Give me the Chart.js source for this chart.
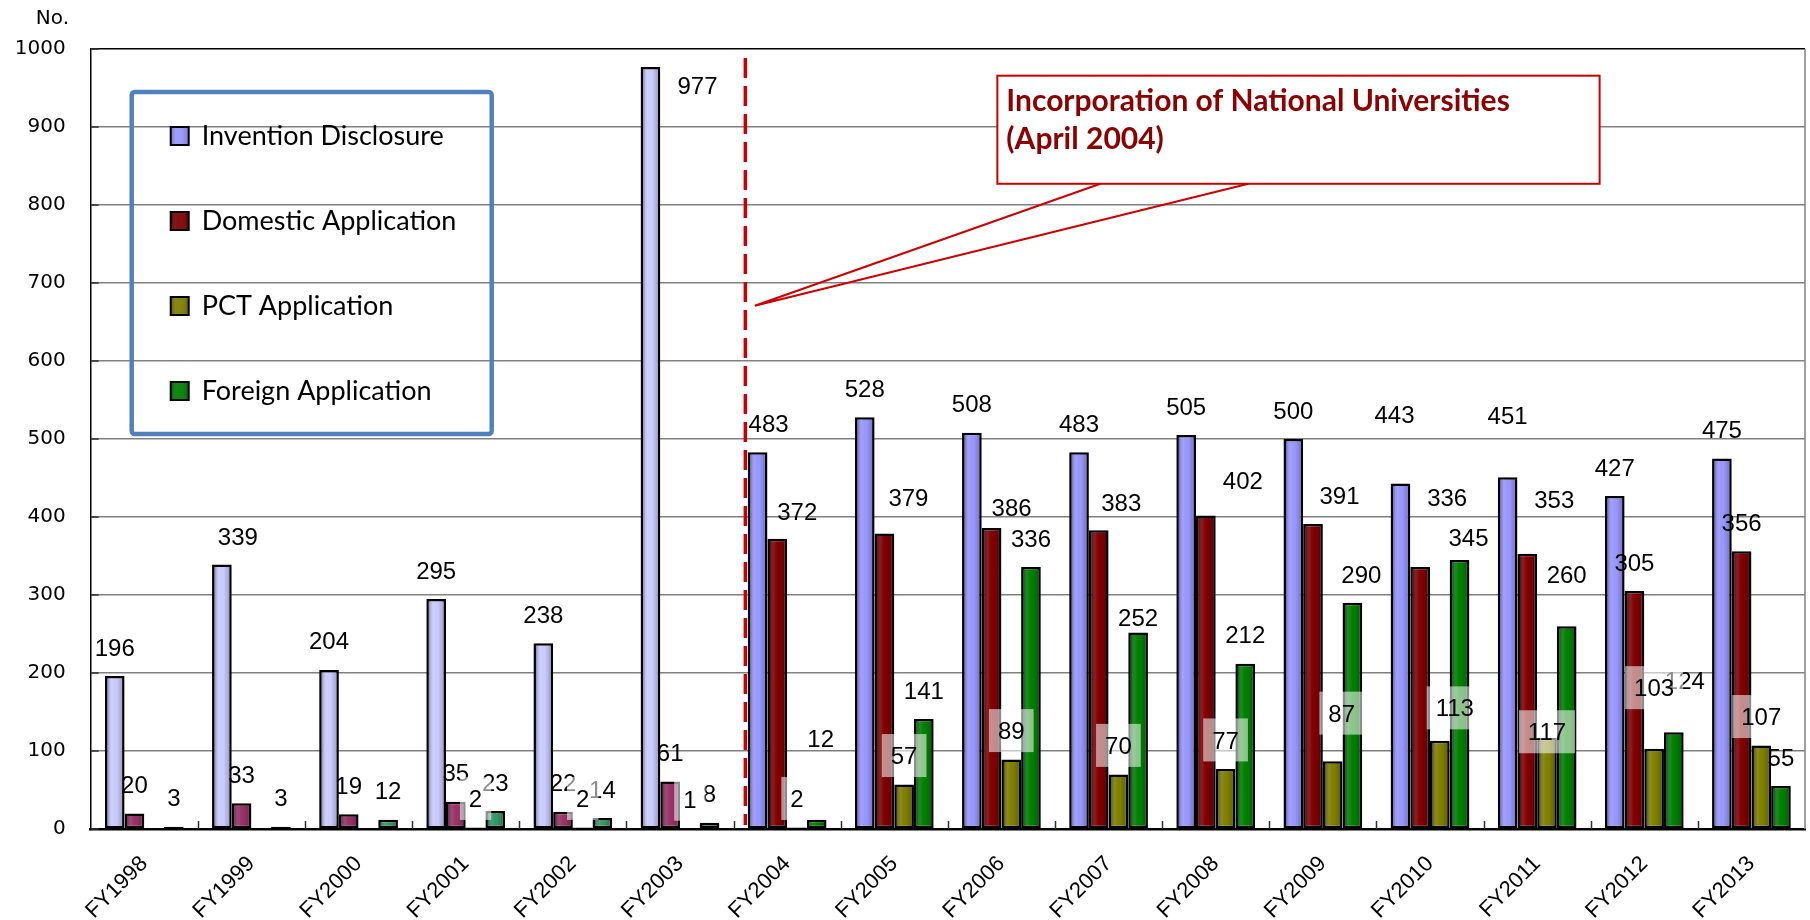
<!DOCTYPE html>
<html>
<head>
<meta charset="utf-8">
<script src="https://cdn.jsdelivr.net/npm/chart.js@4.4.1/dist/chart.umd.min.js"></script>
<style>
  html, body { margin: 0; padding: 0; background: #ffffff; }
  #wrap { width: 1810px; height: 920px; position: relative; }
  canvas { display: block; }
</style>
</head>
<body>
<div id="wrap"><canvas id="chart" width="1810" height="920"></canvas></div>
<script>
// ---- data ----
const fiscalYears = ['FY1998', 'FY1999', 'FY2000', 'FY2001', 'FY2002', 'FY2003', 'FY2004', 'FY2005',
                     'FY2006', 'FY2007', 'FY2008', 'FY2009', 'FY2010', 'FY2011', 'FY2012', 'FY2013'];
const inventionDisclosure = [196, 339, 204, 295, 238, 977, 483, 528, 508, 483, 505, 500, 443, 451, 427, 475];
const domesticApplication = [20, 33, 19, 35, 22, 61, 372, 379, 386, 383, 402, 391, 336, 353, 305, 356];
const pctApplication      = [null, null, null, 2, 2, 1, 2, 57, 89, 70, 77, 87, 113, 117, 103, 107];
const foreignApplication  = [3, 3, 12, 23, 14, 8, 12, 141, 336, 252, 212, 290, 345, 260, 124, 55];
const seriesNames = ['Invention Disclosure', 'Domestic Application', 'PCT Application', 'Foreign Application'];
const yTickValues = [0, 100, 200, 300, 400, 500, 600, 700, 800, 900, 1000];

// ---- styles ----
const firstIncorporatedYear = 6; // FY2004 onwards uses the newer palette
const earlyColors = ['#ccccff', '#993366', '#808000', '#339966'];
const lateColors  = ['#9999ff', '#800000', '#808000', '#008000'];
const seriesValues = [inventionDisclosure, domesticApplication, pctApplication, foreignApplication];

// value label nudges: "dataset:index" -> [dx, rise above bar top]
const labelNudge = {
  '0:1': [16, 28], '0:5': [47, -18], '0:6': [11, 29], '0:12': [-6, 69], '0:13': [0, 62],
  '1:6': [20, 27.5], '1:7': [24, 36], '1:8': [20, 21], '1:9': [22.5, 28], '1:10': [37, 35],
  '1:11': [26.5, 29], '1:12': [27, 70], '1:13': [27, 54],
  '2:11': [9, 48], '2:12': [15, 33], '2:13': [0, 6], '2:14': [0, 61],
  '3:6': [4, 81], '3:9': [0, 15], '3:11': [9, 28], '3:12': [9, 23], '3:13': [0, 52], '3:14': [11, 52]
};
const defaultRise = 29;
const labelOrder = [0, 1, 3, 2];   // PCT labels (boxed) go on top
const boxedSeries = 2;

const datasets = seriesValues.map((vals, d) => ({
  label: seriesNames[d],
  data: vals,
  backgroundColor: vals.map((v, i) => i < firstIncorporatedYear ? earlyColors[d] : lateColors[d]),
  borderColor: '#000000',
  borderWidth: 2.5,
  borderSkipped: false,
  categoryPercentage: 0.735,
  barPercentage: 1.0
}));

// cylinder-like shading over each bar
const barShading = {
  id: 'barShading',
  afterDatasetDraw(chart, args) {
    const ctx = chart.ctx;
    const bw = 2;
    args.meta.data.forEach((el, i) => {
      const v = chart.data.datasets[args.index].data[i];
      if (v === null || v === undefined) return;
      const p = el.getProps(['x', 'y', 'base', 'width'], true);
      const l = p.x - p.width / 2 + bw, r = p.x + p.width / 2 - bw;
      const t = p.y + bw, b = p.base - bw;
      if (b - t < 1 || r - l < 1) return;
      const g = ctx.createLinearGradient(l, 0, r, 0);
      g.addColorStop(0, 'rgba(0,0,40,0.4)');
      g.addColorStop(0.35, 'rgba(255,255,255,0.06)');
      g.addColorStop(0.6, 'rgba(0,0,0,0)');
      g.addColorStop(1, 'rgba(0,0,40,0.22)');
      ctx.save();
      ctx.fillStyle = g;
      ctx.fillRect(l, t, r - l, b - t);
      ctx.restore();
    });
  }
};

// inward tick marks, right frame edge
const frame = {
  id: 'frame',
  beforeDatasetsDraw(chart) {
    const { ctx, chartArea: a, scales: { x, y } } = chart;
    ctx.save();
    ctx.strokeStyle = '#808080';
    ctx.lineWidth = 1.5;
    ctx.beginPath();
    ctx.moveTo(a.right, a.top);
    ctx.lineTo(a.right, a.bottom);
    ctx.stroke();
    ctx.strokeStyle = '#303030';
    ctx.lineWidth = 1.5;
    ctx.beginPath();
    for (let i = 1; i < fiscalYears.length; i++) {
      const px = Math.round(x.getPixelForValue(i - 0.5)) + 0.5;
      ctx.moveTo(px, a.bottom);
      ctx.lineTo(px, a.bottom - 8);
    }
    yTickValues.forEach(v => {
      const py = y.getPixelForValue(v);
      ctx.moveTo(a.left, py);
      ctx.lineTo(a.left + 8, py);
    });
    ctx.stroke();
    ctx.restore();
  }
};

// value labels; the PCT series carries translucent white boxes
const valueLabels = {
  id: 'valueLabels',
  afterDatasetsDraw(chart) {
    const ctx = chart.ctx;
    ctx.save();
    ctx.font = '24px "Liberation Sans", Arial, sans-serif';
    ctx.textAlign = 'center';
    ctx.textBaseline = 'alphabetic';
    labelOrder.forEach(d => {
      const ds = chart.data.datasets[d];
      const meta = chart.getDatasetMeta(d);
      meta.data.forEach((el, i) => {
        const v = ds.data[i];
        if (v === null || v === undefined) return;
        const p = el.getProps(['x', 'y'], true);
        const n = labelNudge[d + ':' + i] || [0, defaultRise];
        const cx = p.x + n[0];
        const cy = p.y - n[1];
        const txt = String(v);
        if (d === boxedSeries) {
          const w = ctx.measureText(txt).width + 18;
          ctx.fillStyle = 'rgba(255,255,255,0.55)';
          ctx.fillRect(cx - w / 2, cy - 21.5, w, 43);
        }
        ctx.fillStyle = '#000000';
        ctx.fillText(txt, cx, cy + 8.6);
      });
    });
    ctx.restore();
  }
};

// legend box, incorporation marker and callout, axis unit
const overlay = {
  id: 'overlay',
  afterDraw(chart) {
    const { ctx, chartArea: a, scales: { x, y } } = chart;
    ctx.save();

    // unit caption above the value axis
    ctx.font = '20px "DejaVu Sans", sans-serif';
    ctx.fillStyle = '#000000';
    ctx.textAlign = 'right';
    ctx.textBaseline = 'middle';
    ctx.fillText('No.', 69, 19);

    // incorporation marker
    const mx = x.getPixelForValue(5.61);
    ctx.strokeStyle = '#cc0000';
    ctx.lineWidth = 3.5;
    ctx.setLineDash([20, 8]);
    ctx.beginPath();
    ctx.moveTo(mx, a.top + 9);
    ctx.lineTo(mx, a.bottom - 4);
    ctx.stroke();
    ctx.setLineDash([]);

    // callout box
    const bl = x.getPixelForValue(7.962), br = x.getPixelForValue(13.583);
    const bt = y.getPixelForValue(965.8), bb = y.getPixelForValue(827.2);
    const tip = [x.getPixelForValue(5.698), y.getPixelForValue(670.8)];
    ctx.fillStyle = '#ffffff';
    ctx.fillRect(bl, bt, br - bl, bb - bt);
    ctx.strokeStyle = '#cc0000';
    ctx.lineWidth = 2;
    ctx.strokeRect(bl, bt, br - bl, bb - bt);
    ctx.beginPath();
    ctx.moveTo(x.getPixelForValue(8.924), bb);
    ctx.lineTo(tip[0], tip[1]);
    ctx.lineTo(x.getPixelForValue(10.306), bb);
    ctx.stroke();
    ctx.font = 'bold 30px Lato, "Open Sans", sans-serif';
    ctx.fillStyle = '#8b0000';
    ctx.textAlign = 'left';
    ctx.textBaseline = 'middle';
    ctx.fillText('Incorporation of National Universities', bl + 9, bt + 26);
    ctx.fillText('(April 2004)', bl + 9, bt + 64);

    // legend
    const lx = a.left + 41, ly = a.top + 43, lw = 360, lh = 342;
    ctx.strokeStyle = '#4f81bd';
    ctx.lineWidth = 4.5;
    ctx.beginPath();
    ctx.roundRect(lx, ly, lw, lh, 3);
    ctx.stroke();
    ctx.font = '27px Lato, "Open Sans", sans-serif';
    chart.data.datasets.forEach((ds, d) => {
      const cy = ly + 44 + d * 85;
      const sx = lx + 39;
      ctx.fillStyle = lateColors[d];
      ctx.fillRect(sx, cy - 9, 18, 18);
      const g = ctx.createLinearGradient(sx, 0, sx + 18, 0);
      g.addColorStop(0, 'rgba(0,0,40,0.3)');
      g.addColorStop(0.4, 'rgba(255,255,255,0.05)');
      g.addColorStop(1, 'rgba(0,0,40,0.2)');
      ctx.fillStyle = g;
      ctx.fillRect(sx, cy - 9, 18, 18);
      ctx.strokeStyle = '#000000';
      ctx.lineWidth = 2;
      ctx.strokeRect(sx, cy - 9, 18, 18);
      ctx.fillStyle = '#000000';
      ctx.textAlign = 'left';
      ctx.textBaseline = 'middle';
      ctx.fillText(ds.label, lx + 70, cy);
    });
    ctx.restore();
  }
};

new Chart(document.getElementById('chart'), {
  type: 'bar',
  data: { labels: fiscalYears, datasets: datasets },
  options: {
    responsive: false,
    animation: false,
    devicePixelRatio: 1,
    layout: { padding: { top: 49, right: 5, left: 0, bottom: 0 } },
    plugins: { legend: { display: false }, tooltip: { enabled: false }, title: { display: false } },
    scales: {
      x: {
        grid: { display: false, drawTicks: false },
        border: { display: true, color: '#000000', width: 2.5 },
        ticks: {
          autoSkip: false, minRotation: 45, maxRotation: 45, padding: 22,
          color: '#000000', font: { family: '"Liberation Sans", Arial, sans-serif', size: 22 }
        },
        afterFit(s) { s.height = 91; }
      },
      y: {
        min: 0, max: 1000,
        afterBuildTicks(s) { s.ticks = yTickValues.map(v => ({ value: v })); },
        grid: {
          color: c => (c.tick && c.tick.value === 1000) ? '#000000' : '#808080',
          lineWidth: 1.5, drawTicks: false
        },
        border: { display: true, color: '#000000', width: 1.5 },
        ticks: {
          padding: 25, color: '#000000', font: { family: '"DejaVu Sans", sans-serif', size: 20 },
          callback: v => String(v)
        },
        afterFit(s) { s.width = 90.7; }
      }
    }
  },
  plugins: [frame, barShading, valueLabels, overlay]
});
</script>
</body>
</html>
